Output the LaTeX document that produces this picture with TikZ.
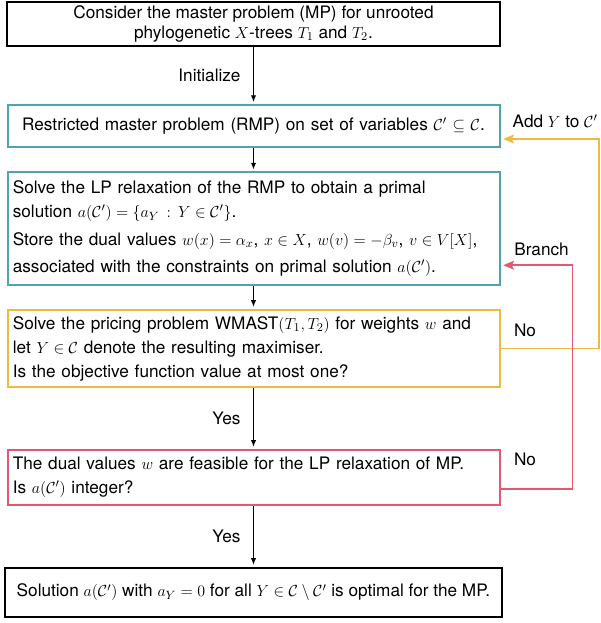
\documentclass[tikz,border=0pt]{standalone}
\usepackage{amssymb}
\usepackage{amsmath}
\usepackage{fontspec}
\setmainfont{TeX Gyre Heros}
\usetikzlibrary{calc,arrows.meta,positioning}
\definecolor{tealc}{RGB}{79,165,174}
\definecolor{orangec}{RGB}{240,185,65}
\definecolor{redc}{RGB}{225,90,110}

\begin{document}
\begin{tikzpicture}[x=0.75pt,y=-0.75pt,
	font=\fontsize{12.9}{14.5}\selectfont,
	endbox/.style={draw,line width=1.5pt,minimum width=370pt,align=center,inner sep=3pt},
	stage/.style={draw=#1,line width=1.5pt,minimum width=369pt,text width=361pt,inner xsep=4pt,align=left,font=\fontsize{12.9}{18}\selectfont},
	arr/.style={->,>={Latex[length=5pt,width=4pt]},line width=0.75pt,shorten >=1.5pt},
	back/.style={draw=#1,->,>={Stealth[length=8pt,width=6.5pt,inset=1.5pt]},line width=1.4pt,shorten >=2pt}]
	\useasboundingbox (0,0) rectangle (600,623);
	%BOXES
	\node[endbox,minimum height=31.5pt] (init) at (253.5,24) {Consider the master problem (MP) for unrooted\\ phylogenetic $X$-trees $T_1$ and $T_2$.};
	\node[stage=tealc,minimum height=31.5pt,align=center] (rmp) at (253.5,126) {Restricted master problem (RMP) on set of variables $\mathcal{C}'\subseteq\mathcal{C}$.};
	\node[stage=tealc,minimum height=84.4pt] (lp) at (253.5,228.7) {Solve the LP relaxation of the RMP to obtain a primal\\ solution $a(\mathcal{C}')=\{a_Y\,:\,Y\in\mathcal{C}'\}$.\\[2.5pt] Store the dual values $w(x)=\alpha_x$, $x\in X$, $w(v)=-\beta_v$, $v\in V[X]$,\\[2.5pt] associated with the constraints on primal solution $a(\mathcal{C}')$.};
	\node[stage=orangec,minimum height=58pt] (pricing) at (253.5,348.5) {Solve the pricing problem WMAST$(T_1,T_2)$ for weights $w$ and\\ let $Y\in\mathcal{C}$ denote the resulting maximiser.\\ Is the objective function value at most one?};
	\node[stage=redc,minimum height=41.6pt] (check) at (253.5,477.5) {The dual values $w$ are feasible for the LP relaxation of MP.\\ Is $a(\mathcal{C}')$ integer?};
	\node[endbox,minimum width=372.75pt,minimum height=37pt] (opt) at (253.5,592.5) {Solution $a(\mathcal{C}')$ with $a_Y=0$ for all $Y\in\mathcal{C}\setminus\mathcal{C}'$ is optimal for the MP.};
	
	%ARROWS
	\draw[arr] (init) -- node[left=6pt] (initlbl) {Initialize} (rmp);
	\draw[arr] (rmp) -- (lp);
	\draw[arr] (lp) -- (pricing);
	\draw[arr] (pricing) -- node[left=6pt] (yes1) {Yes} (check);
	\draw[arr] (check) -- node[left=6pt] (yes2) {Yes} (opt);
	%
	\coordinate (addin) at ($(rmp.east)+(0,13)$);
	\draw[back=orangec] (pricing.east) -- ++(98.5,0) |- (addin);
	\coordinate (branchout) at ($(check.east)+(0,11.5)$);
	\coordinate (branchin) at ($(lp.east)+(0,36.5)$);
	\draw[back=redc] (branchout) -- ++(72,0) |- (branchin);
	
	%LABELS
	\node[anchor=west] (addlbl) at (508,121.5) {Add $Y$ to $\mathcal{C}'$};
	\node (branchlbl) at (541.5,249) {Branch};
	\node (no1) at (525,330) {No};
	\node (no2) at (525,459) {No};
\end{tikzpicture}
\end{document}
